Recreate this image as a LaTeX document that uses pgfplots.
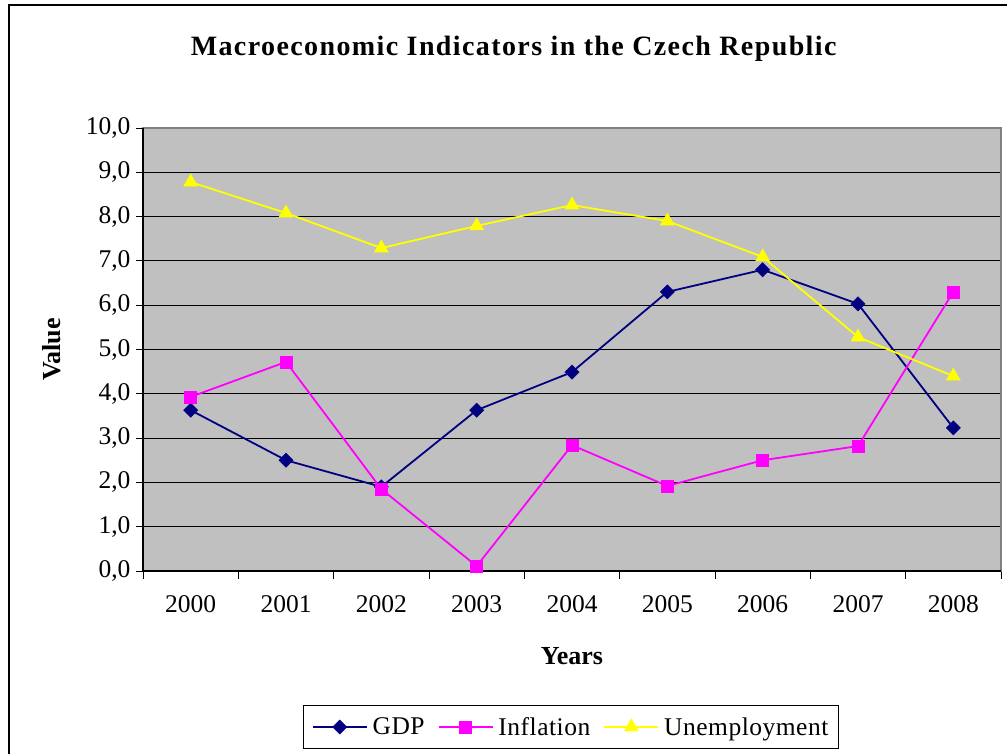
\documentclass[border=0pt]{standalone}
\usepackage{pgfplots}
\pgfplotsset{compat=1.18}
\usepackage{fontspec}
\setmainfont{Liberation Serif}
\newfontfamily\titlefont[LetterSpace=5]{Liberation Serif}
\newfontfamily\legfont[LetterSpace=2]{Liberation Serif}
\definecolor{bg}{HTML}{C0C0C0}
\definecolor{gdp}{HTML}{000080}
\definecolor{infl}{HTML}{FF00FF}
\definecolor{unem}{HTML}{FFFF00}
\definecolor{brd}{HTML}{808080}
\begin{document}
\begin{tikzpicture}[x=1pt,y=1pt]
\begin{axis}[
  at={(143pt,183pt)}, anchor=south west,
  scale only axis, width=858pt, height=443pt,
  xmin=-0.5, xmax=8.5, ymin=0, ymax=10,
  xtick={0,1,2,3,4,5,6,7,8},
  xticklabels={2000,2001,2002,2003,2004,2005,2006,2007,2008},
  minor xtick={-0.5,0.5,1.5,2.5,3.5,4.5,5.5,6.5,7.5,8.5},
  ytick={0,1,2,3,4,5,6,7,8,9,10},
  tick align=outside, xtick pos=bottom, ytick pos=left,
  major tick length=7pt, minor tick length=8pt,
  major x tick style={draw=none},
  tick style={black, line width=0.9pt},
  ymajorgrids, major grid style={black, line width=0.9pt},
  axis line style={brd, line width=1.5pt},
  axis background/.style={fill=bg},
  ticklabel style={font=\fontsize{25.5}{30}\selectfont},
  yticklabel={\pgfmathprintnumber[fixed,fixed zerofill,precision=1,use comma,assume math mode=true]{\tick}},
  xticklabel style={yshift=-14pt},
  yticklabel style={xshift=-2pt},
  xlabel={\textbf{Years}}, ylabel={\textbf{Value}},
  label style={font=\fontsize{26}{30}\selectfont},
  xlabel style={at={(axis description cs:0.5,-0.192)}, anchor=center},
  ylabel style={at={(axis description cs:-0.106,0.5)}, anchor=center, rotate=0},
  title={\titlefont\bfseries Macroeconomic Indicators in the Czech Republic},
  title style={at={(axis description cs:0.432,1.165)}, anchor=center, font=\fontsize{28}{32}\selectfont},
  legend columns=3,
  legend style={at={(axis description cs:0.499,-0.352)}, anchor=center,
    draw=black, line width=1pt, fill=white, font=\legfont\fontsize{25.5}{30}\selectfont,
    inner xsep=8pt, inner ysep=10pt,
    /tikz/every odd column/.append style={column sep=3pt},
    /tikz/every even column/.append style={column sep=11pt}},
  legend image code/.code={%
    \draw[mark repeat=2,mark phase=2] plot coordinates {(0pt,0pt) (27pt,0pt) (54pt,0pt)};},
  clip=false,
]
\addplot[gdp, line width=1.8pt, mark=square*, mark size=5pt, mark options={rotate=45, fill=gdp, draw=gdp, line width=0.5pt}]
 coordinates {(0,3.63) (1,2.50) (2,1.90) (3,3.63) (4,4.49) (5,6.30) (6,6.80) (7,6.03) (8,3.23)};
\addlegendentry{GDP}
\addplot[infl, line width=1.8pt, mark=square*, mark size=6pt, mark options={fill=infl, draw=infl, line width=0.5pt}]
 coordinates {(0,3.93) (1,4.72) (2,1.85) (3,0.11) (4,2.84) (5,1.92) (6,2.50) (7,2.82) (8,6.30)};
\addlegendentry{Inflation}
\addplot[unem, line width=1.8pt, mark=triangle*, mark size=8pt, mark options={fill=unem, draw=unem, line width=0.5pt}]
 coordinates {(0,8.78) (1,8.08) (2,7.29) (3,7.79) (4,8.26) (5,7.90) (6,7.09) (7,5.28) (8,4.40)};
\addlegendentry{Unemployment}
\draw[black, line width=1.5pt] (rel axis cs:0,1) -- (rel axis cs:0,0) -- (rel axis cs:1,0);
\end{axis}
\draw[black, line width=2.5pt] (9,-20) -- (9,749) -- (1030,749);
\pgfresetboundingbox
\useasboundingbox (0,0) rectangle (1007,754);
\end{tikzpicture}
\end{document}
